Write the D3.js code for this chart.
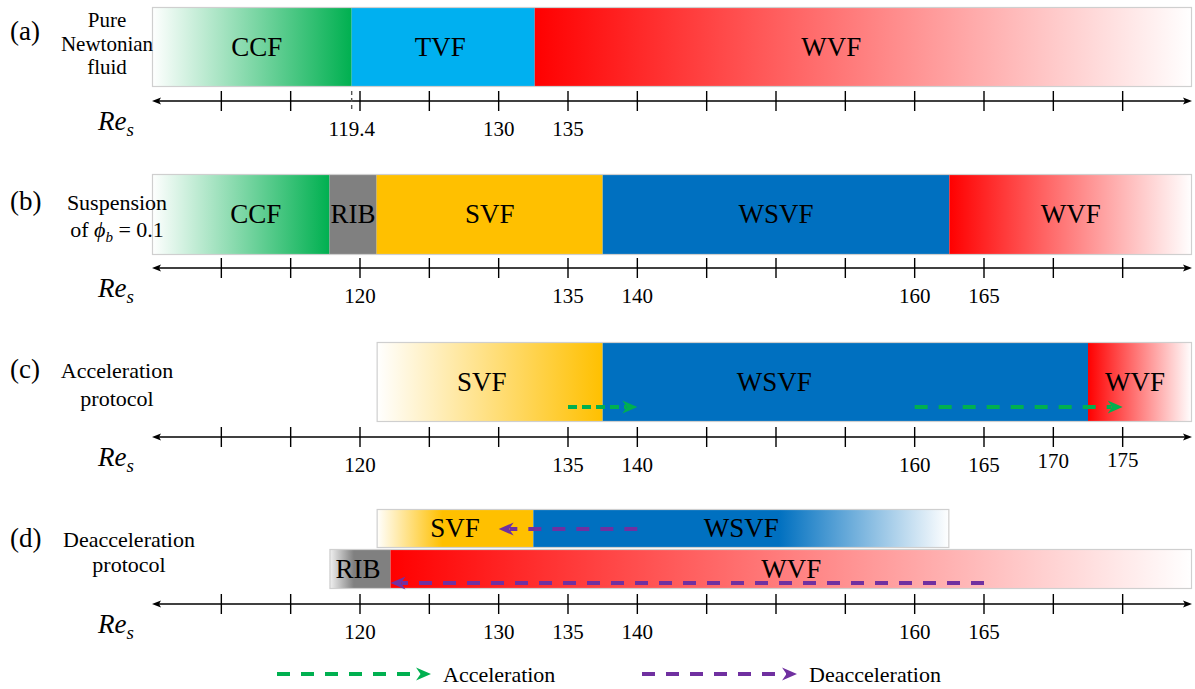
<!DOCTYPE html>
<html>
<head>
<meta charset="utf-8">
<script src="https://cdn.jsdelivr.net/npm/d3@7/dist/d3.min.js"></script>
<style>
  html, body { margin: 0; padding: 0; background: #fff; }
  svg text { font-family: "Liberation Serif", "Times New Roman", "DejaVu Serif", serif; fill: #000; }
</style>
</head>
<body>
<svg id="chart" width="1195" height="689" font-family="Liberation Serif, Times New Roman, serif"></svg>
<script>
// ---- Flow regimes along the Reynolds-number axis ----
const axisDomain = [105, 180];
const tickValues = [110, 115, 120, 125, 130, 135, 140, 145, 150, 155, 160, 165, 170, 175];

// (a) pure Newtonian fluid
const statesA = ["CCF", "TVF", "WVF"];
const boundsA = [105, 119.4, 132.6, 180];
const tickLabelsA = [119.4, 130, 135];
const criticalA = 119.4;

// (b) suspension, phi_b = 0.1
const statesB = ["CCF", "RIB", "SVF", "WSVF", "WVF"];
const boundsB = [105, 117.8, 121.2, 137.5, 162.5, 180];
const tickLabelsB = [120, 135, 140, 160, 165];

// (c) acceleration protocol
const statesC = ["SVF", "WSVF", "WVF"];
const boundsC = [121.2, 137.5, 172.5, 180];
const tickLabelsC = [120, 135, 140, 160, 165, 170, 175];
const accelArrows = [[135, 140], [160, 175]];

// (d) deceleration protocol: two overlapping branches
const statesDUpper = ["SVF", "WSVF"];
const boundsDUpper = [121.2, 132.5, 162.5];
const statesDLower = ["RIB", "WVF"];
const boundsDLower = [117.8, 122.2, 180];
const tickLabelsD = [120, 130, 135, 140, 160, 165];
const decelArrowsUpper = [[140, 130]];
const decelArrowsLower = [[165, 122.2]];

// ---- colours ----
const C = {
  green: "#00B050", cyan: "#00B0F0", red: "#FF0000", gray: "#808080",
  orange: "#FFC000", blue: "#0070C0", purple: "#7030A0", outline: "#cfcfcf"
};

const svg = d3.select("#chart");
const defs = svg.append("defs");
const x = d3.scaleLinear().domain(axisDomain).range([152, 1192]);

function gradient(id, stops) {
  const g = defs.append("linearGradient").attr("id", id)
    .attr("x1", 0).attr("x2", 1).attr("y1", 0).attr("y2", 0);
  stops.forEach(([o, c]) => g.append("stop").attr("offset", o).attr("stop-color", c));
  return `url(#${id})`;
}

const F = {
  ccf: gradient("gCCF", [[0, "#ffffff"], [1, C.green]]),
  wvf: gradient("gWVF", [[0, C.red], [1, "#ffffff"]]),
  svfFade: gradient("gSVF", [[0, "#ffffff"], [1, C.orange]]),
  svfFadeShort: gradient("gSVF2", [[0, "#ffffff"], [0.42, C.orange], [1, C.orange]]),
  wsvfFade: gradient("gWSVF", [[0, C.blue], [0.59, C.blue], [1, "#ffffff"]]),
  ribFade: gradient("gRIB", [[0, "#f2f2f2"], [0.4, C.gray], [1, C.gray]])
};

// arrowhead with a small notch, tip at origin, pointing toward +x
const headPath = "M0,0 L-15,-6.5 L-10.5,0 L-15,6.5 Z";

function drawBar(states, bounds, fills, top, h, shifts) {
  const g = svg.append("g");
  const segs = states.map((s, i) => ({ s, a: bounds[i], b: bounds[i + 1], fill: fills[i], shift: shifts[i] || 0 }));
  g.selectAll("rect.seg").data(segs).enter().append("rect")
    .attr("class", "seg")
    .attr("x", d => x(d.a)).attr("y", top)
    .attr("width", d => x(d.b) - x(d.a)).attr("height", h)
    .attr("fill", d => d.fill);
  g.append("rect")
    .attr("x", x(bounds[0]) + 0.5).attr("y", top + 0.5)
    .attr("width", x(bounds[bounds.length - 1]) - x(bounds[0]) - 1).attr("height", h - 1)
    .attr("fill", "none").attr("stroke", C.outline).attr("stroke-width", 1.2);
  g.selectAll("text").data(segs).enter().append("text")
    .attr("x", d => (x(d.a) + x(d.b)) / 2 + d.shift)
    .attr("y", top + h / 2).attr("dy", "0.33em")
    .attr("text-anchor", "middle").attr("font-size", 27)
    .text(d => d.s);
}

function drawAxis(y, labels, labelShift) {
  const g = svg.append("g");
  g.append("line").attr("x1", x(axisDomain[0]) + 4).attr("x2", x(axisDomain[1]) - 4)
    .attr("y1", y).attr("y2", y).attr("stroke", "#000").attr("stroke-width", 1.4);
  g.append("path").attr("d", `M${x(axisDomain[0])},${y} l9,-3.5 l-2,3.5 l2,3.5 Z`).attr("fill", "#000");
  g.append("path").attr("d", `M${x(axisDomain[1])},${y} l-9,-3.5 l2,3.5 l-2,3.5 Z`).attr("fill", "#000");
  g.selectAll("line.tick").data(tickValues).enter().append("line")
    .attr("class", "tick")
    .attr("x1", d => x(d)).attr("x2", d => x(d))
    .attr("y1", y - 10).attr("y2", y + 10)
    .attr("stroke", "#000").attr("stroke-width", 1.4);
  g.selectAll("text.tl").data(labels).enter().append("text")
    .attr("class", "tl")
    .attr("x", d => x(d)).attr("y", d => y + 35 + ((labelShift && labelShift[d]) || 0))
    .attr("text-anchor", "middle").attr("font-size", 21)
    .text(d => d);
  const t = g.append("text").attr("x", 98).attr("y", y + 29).attr("font-style", "italic");
  t.append("tspan").attr("font-size", 27).text("Re");
  t.append("tspan").attr("font-size", 19).attr("dy", 6).text("s");
}

function drawArrows(pairs, y, color, dash) {
  pairs.forEach(([a, b]) => {
    const x0 = x(a), x1 = x(b), dir = x1 > x0 ? 1 : -1;
    svg.append("line").attr("x1", x0).attr("x2", x1 - dir * 11).attr("y1", y).attr("y2", y)
      .attr("stroke", color).attr("stroke-width", 4).attr("stroke-dasharray", dash);
    svg.append("path").attr("d", headPath)
      .attr("transform", `translate(${x1},${y}) scale(${dir},1)`)
      .attr("fill", color);
  });
}

function leftLabel(tag, tagY, lines, cx, size) {
  svg.append("text").attr("x", 10).attr("y", tagY).attr("font-size", 27).text(tag);
  lines.forEach(([txt, y]) => {
    const t = svg.append("text").attr("x", cx).attr("y", y).attr("text-anchor", "middle")
      .attr("font-size", size || 22);
    if (typeof txt === "string") t.text(txt);
    else txt(t);
  });
}

// ---- (a) ----
drawBar(statesA, boundsA, [F.ccf, C.cyan, F.wvf], 7, 80, [5, -3, -32]);
drawAxis(101, tickLabelsA);
svg.append("line").attr("x1", x(criticalA)).attr("x2", x(criticalA))
  .attr("y1", 91).attr("y2", 111).attr("stroke", "#555").attr("stroke-width", 1.4)
  .attr("stroke-dasharray", "4,3");
leftLabel("(a)", 40, [["Pure", 27], ["Newtonian", 51], ["fluid", 74]], 107, 21);

// ---- (b) ----
drawBar(statesB, boundsB, [F.ccf, C.gray, C.orange, C.blue, F.wvf], 174, 81, [15, 0, 0, 0, 0]);
drawAxis(268, tickLabelsB);
leftLabel("(b)", 210, [
  ["Suspension", 210],
  [t => {
    t.append("tspan").text("of ");
    t.append("tspan").attr("font-style", "italic").text("\u03D5");
    t.append("tspan").attr("font-style", "italic").attr("font-size", 15).attr("dy", 5).text("b");
    t.append("tspan").attr("dy", -5).text(" = 0.1");
  }, 237]
], 117);

// ---- (c) ----
drawBar(statesC, boundsC, [F.svfFade, C.blue, F.wvf], 342, 80, [-8, -71, -5]);
drawAxis(437, tickLabelsC, { 170: -4, 175: -5 });
drawArrows([accelArrows[0]], 407, C.green, "9,5");
drawArrows([accelArrows[1]], 407, C.green, "13,11");
leftLabel("(c)", 378, [["Acceleration", 378], ["protocol", 406]], 117);

// ---- (d) ----
drawBar(statesDUpper, boundsDUpper, [F.svfFadeShort, F.wsvfFade], 509, 39, [0, 0]);
drawBar(statesDLower, boundsDLower, [F.ribFade, F.wvf], 549, 40, [-2, 0]);
drawAxis(604, tickLabelsD);
drawArrows(decelArrowsUpper, 529, C.purple, "13,11");
drawArrows(decelArrowsLower, 583, C.purple, "13,11");
leftLabel("(d)", 547, [["Deacceleration", 547], ["protocol", 572]], 129);

// ---- legend ----
const legend = [
  { label: "Acceleration", color: C.green, x0: 277, x1: 431 },
  { label: "Deacceleration", color: C.purple, x0: 642, x1: 797 }
];
legend.forEach(d => {
  svg.append("line").attr("x1", d.x0).attr("x2", d.x1 - 10).attr("y1", 674).attr("y2", 674)
    .attr("stroke", d.color).attr("stroke-width", 4).attr("stroke-dasharray", "13,11");
  svg.append("path").attr("d", headPath).attr("transform", `translate(${d.x1},674)`).attr("fill", d.color);
  svg.append("text").attr("x", d.x1 + 12).attr("y", 682).attr("font-size", 22).text(d.label);
});
</script>
</body>
</html>
